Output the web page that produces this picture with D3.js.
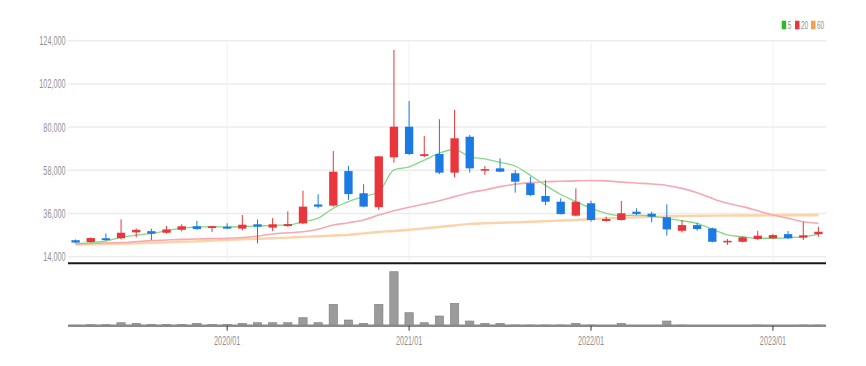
<!DOCTYPE html>
<html>
<head>
<meta charset="utf-8">
<script src="https://cdn.jsdelivr.net/npm/d3@7"></script>
<style>
  html, body { margin: 0; padding: 0; background: #fff; }
  #chart { width: 866px; height: 366px; }
</style>
</head>
<body>
<div id="chart"></div>
<script>
const months = [
  "2019/03", "2019/04", "2019/05", "2019/06", "2019/07", "2019/08", "2019/09", "2019/10", "2019/11", "2019/12",
  "2020/01", "2020/02", "2020/03", "2020/04", "2020/05", "2020/06", "2020/07", "2020/08", "2020/09", "2020/10", "2020/11", "2020/12",
  "2021/01", "2021/02", "2021/03", "2021/04", "2021/05", "2021/06", "2021/07", "2021/08", "2021/09", "2021/10", "2021/11", "2021/12",
  "2022/01", "2022/02", "2022/03", "2022/04", "2022/05", "2022/06", "2022/07", "2022/08", "2022/09", "2022/10", "2022/11", "2022/12",
  "2023/01", "2023/02", "2023/03", "2023/04"
];

const open = [22400, 21500, 23400, 23400, 26400, 27000, 26200, 27700, 29500, 28600, 29300, 28300, 30500, 28800, 29600, 31000, 40600, 40000, 57600, 46300, 39200, 64600, 80200, 65300, 66300, 56800, 75100, 57800, 59000, 56500, 51400, 44900, 42000, 34900, 41200, 32200, 32700, 36900, 35900, 34100, 27200, 30100, 28400, 21300, 21600, 23000, 23400, 25500, 23700, 25500];
const high = [22800, 23800, 25900, 33000, 28400, 28300, 29600, 30500, 32200, 29800, 31000, 35200, 33000, 33700, 37100, 47600, 45800, 67800, 60200, 50900, 65300, 119300, 93300, 75500, 84000, 88700, 76000, 60200, 64100, 58100, 54700, 53000, 43700, 48800, 42500, 34400, 42400, 38600, 36900, 40700, 32700, 31300, 28800, 23000, 24400, 27200, 25500, 27100, 31800, 29300];
const low = [21000, 21300, 22100, 22800, 23900, 22500, 25700, 26900, 27700, 26600, 28000, 27400, 20800, 27100, 29200, 30600, 38600, 39500, 42900, 39200, 37800, 61900, 65800, 64600, 56100, 54400, 56800, 55600, 57000, 46600, 44900, 40300, 35500, 34600, 31800, 31800, 32400, 35200, 31500, 24700, 26400, 27200, 21300, 20000, 21300, 22500, 23000, 23000, 22500, 24200];
const close = [21200, 23500, 22500, 26200, 27700, 25700, 27900, 29500, 28100, 29500, 28300, 30300, 29300, 30500, 30600, 39500, 39500, 57300, 45900, 39500, 65100, 80200, 66300, 66200, 56800, 74300, 59000, 58600, 57300, 52200, 45400, 42000, 35700, 42000, 32700, 33200, 36100, 35800, 34400, 27900, 30100, 28100, 21600, 22100, 23900, 24700, 25000, 23400, 24900, 26700];
const volume = [50000, 100000, 100000, 300000, 240000, 140000, 140000, 140000, 240000, 140000, 140000, 240000, 300000, 300000, 300000, 800000, 300000, 2140000, 570000, 240000, 2140000, 5400000, 1300000, 300000, 970000, 2240000, 470000, 240000, 240000, 70000, 70000, 70000, 70000, 240000, 70000, 30000, 240000, 30000, 30000, 470000, 70000, 20000, 20000, 20000, 20000, 70000, 30000, 30000, 70000, 70000];

// moving averages as shown on the chart
const ma5 = [20700, 21200, 22000, 23900, 25000, 25900, 27200, 28600, 29100, 29300, 29100, 29300, 29600, 30000, 30100, 31800, 33600, 38700, 42000, 44600, 47100, 58200, 59800, 63200, 66700, 68600, 64900, 63800, 62000, 60200, 55400, 50300, 45700, 42100, 38700, 36100, 34900, 35200, 34700, 33600, 32300, 31000, 28000, 25100, 24200, 23400, 23400, 23700, 24200, 25400];
const ma20 = [20500, 20700, 21000, 21200, 21700, 22200, 22500, 22800, 23000, 23200, 23400, 23800, 24500, 25600, 26200, 26700, 28000, 30100, 31300, 32700, 35200, 37400, 39200, 40800, 42500, 44600, 46600, 48000, 49700, 50900, 51700, 52200, 52400, 52600, 52800, 52600, 52000, 51500, 51000, 50300, 48800, 46600, 43700, 41200, 39500, 37400, 35200, 33600, 31800, 31000];
const ma60 = [20200, 20300, 20500, 20600, 20800, 21100, 21300, 21600, 21800, 22200, 22500, 22900, 23100, 23400, 23700, 24100, 24400, 24800, 25100, 25900, 26600, 27100, 27700, 28400, 29100, 29900, 30700, 31000, 31300, 31500, 31800, 32100, 32400, 32700, 33100, 33500, 33800, 34100, 34300, 34500, 34700, 34800, 34900, 34900, 35000, 35000, 35100, 35100, 35100, 35100];

const priceTicks = [14000, 36000, 58000, 80000, 102000, 124000];
const yearTicks = ["2020/01", "2021/01", "2022/01", "2023/01"];
const maNames = ["5", "20", "60"];

const width = 866, height = 366;
const left = 68, right = 826;
const upColor = "#e8363c", downColor = "#1b7be3";
const maColors = ["#86d886", "#f6a9b1", "#fcd2a8"];
const maWidths = [1.3, 1.6, 2.4];
const legendColors = ["#2cba2c", "#e8363c", "#f7a04a"];
const squeeze = 0.58; // labels are horizontally narrow

const svg = d3.select("#chart").append("svg")
  .attr("width", width)
  .attr("height", height)
  .style("font-family", "'Liberation Sans', Arial, sans-serif");

const x = d3.scaleBand()
  .domain(months)
  .range([left, right])
  .paddingInner(0.45)
  .paddingOuter(0.225);
const cx = m => x(m) + x.bandwidth() / 2;

const y = d3.scaleLinear()
  .domain([14000, 124000])
  .range([256.7, 40.7]);

const yVol = d3.scaleLinear()
  .domain([0, 5400000])
  .range([325.7, 271.7]);

const rows = months.map((m, i) => ({
  m, o: open[i], h: high[i], l: low[i], c: close[i], v: volume[i]
}));

// grid
svg.append("g")
  .selectAll("line")
  .data(priceTicks)
  .enter()
  .append("line")
  .attr("x1", left).attr("x2", right)
  .attr("y1", d => y(d)).attr("y2", d => y(d))
  .attr("stroke", "#ececec")
  .attr("stroke-width", 1.5);

svg.append("g")
  .selectAll("line")
  .data(yearTicks)
  .enter()
  .append("line")
  .attr("x1", d => cx(d)).attr("x2", d => cx(d))
  .attr("y1", y(124000)).attr("y2", 261)
  .attr("stroke", "#f0f0f0")
  .attr("stroke-width", 1);

// price labels
svg.append("g")
  .selectAll("text")
  .data(priceTicks)
  .enter()
  .append("text")
  .attr("transform", d => `translate(65.5,${y(d)}) scale(${squeeze},1)`)
  .attr("text-anchor", "end")
  .attr("dy", "0.36em")
  .attr("font-size", "12.5px")
  .attr("fill", "#909090")
  .text(d => d3.format(",")(d));

// moving average lines
const maLine = d3.line()
  .x((d, i) => cx(months[i]))
  .y(d => y(d))
  .curve(d3.curveMonotoneX);

[ma60, ma20, ma5].forEach((series, k) => {
  const idx = 2 - k;
  svg.append("path")
    .datum(series)
    .attr("fill", "none")
    .attr("stroke", maColors[idx])
    .attr("stroke-width", maWidths[idx])
    .attr("d", maLine);
});

// candles
const candle = svg.append("g")
  .selectAll("g")
  .data(rows)
  .enter()
  .append("g");

candle.append("line")
  .attr("x1", d => cx(d.m)).attr("x2", d => cx(d.m))
  .attr("y1", d => y(d.h)).attr("y2", d => y(d.l))
  .attr("stroke", d => d.c >= d.o ? upColor : downColor)
  .attr("stroke-width", 1);

candle.append("rect")
  .attr("x", d => x(d.m))
  .attr("width", x.bandwidth())
  .attr("y", d => y(Math.max(d.o, d.c)))
  .attr("height", d => Math.max(1.5, Math.abs(y(d.o) - y(d.c))))
  .attr("fill", d => d.c >= d.o ? upColor : downColor);

// panel divider
svg.append("line")
  .attr("x1", left).attr("x2", right)
  .attr("y1", 263.3).attr("y2", 263.3)
  .attr("stroke", "#1a1a1a")
  .attr("stroke-width", 2);

// volume bars
svg.append("g")
  .selectAll("rect")
  .data(rows)
  .enter()
  .append("rect")
  .attr("x", d => x(d.m))
  .attr("width", x.bandwidth())
  .attr("y", d => yVol(d.v))
  .attr("height", d => yVol(0) - yVol(d.v))
  .attr("fill", "#9b9b9b")
  .attr("stroke", "#7d7d7d")
  .attr("stroke-width", 0.6);

svg.append("line")
  .attr("x1", left).attr("x2", right)
  .attr("y1", yVol(0)).attr("y2", yVol(0))
  .attr("stroke", "#8a8a8a")
  .attr("stroke-width", 2.6);

// x axis
const xAxis = svg.append("g")
  .attr("transform", `translate(0,${yVol(0)})`)
  .call(d3.axisBottom(x).tickValues(yearTicks).tickSize(5).tickFormat(""));
xAxis.select(".domain").remove();
xAxis.selectAll(".tick line").attr("stroke", "#333");

svg.append("g")
  .selectAll("text")
  .data(yearTicks)
  .enter()
  .append("text")
  .attr("transform", d => `translate(${cx(d)},345) scale(${squeeze},1)`)
  .attr("text-anchor", "middle")
  .attr("font-size", "12.5px")
  .attr("fill", "#909090")
  .text(d => d);

// legend
const legendX = [781.7, 795, 811];
const legend = svg.append("g")
  .selectAll("g")
  .data(maNames)
  .enter()
  .append("g")
  .attr("transform", (d, i) => `translate(${legendX[i]},0)`);

legend.append("rect")
  .attr("x", 0).attr("y", 20.7)
  .attr("width", 4.5).attr("height", 8.6)
  .attr("fill", (d, i) => legendColors[i]);

legend.append("text")
  .attr("transform", `translate(6,29.3) scale(0.62,1)`)
  .attr("font-size", "10.5px")
  .attr("fill", "#909090")
  .text(d => d);
</script>
</body>
</html>
